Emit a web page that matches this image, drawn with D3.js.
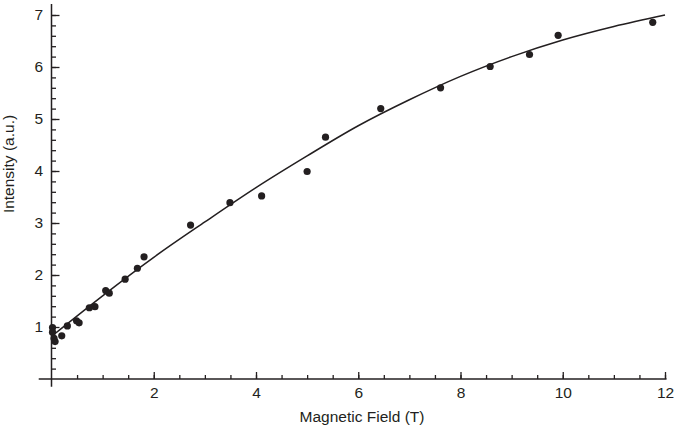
<!DOCTYPE html>
<html lang="en">
<head>
  <meta charset="UTF-8">
  <title>Intensity vs Magnetic Field</title>
  <script src="https://d3js.org/d3.v7.min.js"></script>
  <style>
    body { margin: 0; background: #fff; }
    svg { display: block; font-family: "Liberation Sans", Arial, sans-serif; }
    .axis path { display: none; }
    .axis line { stroke: #231f20; stroke-width: 1.3px; }
    .axis text { fill: #231f20; font-size: 15.5px; }
    .frame { stroke: #231f20; stroke-width: 1.5px; }
    .fit { fill: none; stroke: #231f20; stroke-width: 1.5px; }
    .dot { fill: #231f20; }
    .title { fill: #231f20; font-size: 15.5px; text-anchor: middle; }
  </style>
</head>
<body>
  <svg width="675" height="426"></svg>
  <script>
    // measured points
    const fieldT = [0.02, 0.02, 0.05, 0.07, 0.20, 0.31, 0.49, 0.54, 0.74, 0.85, 1.06, 1.13,
      1.44, 1.68, 1.81, 2.72, 3.49, 4.11, 5.00, 5.36, 6.44, 7.61, 8.58, 9.35, 9.91, 11.76];
    const intensity = [0.99, 0.90, 0.78, 0.72, 0.83, 1.02, 1.12, 1.08, 1.37, 1.39, 1.70, 1.65,
      1.92, 2.13, 2.35, 2.96, 3.39, 3.52, 3.99, 4.65, 5.20, 5.60, 6.01, 6.24, 6.61, 6.86];

    // fitted curve
    const fitX = [0, 1, 2, 3, 4, 5, 6, 7, 8, 9, 10, 11, 12];
    const fitY = [0.82, 1.60, 2.34, 3.02, 3.68, 4.29, 4.87, 5.37, 5.82, 6.20, 6.52, 6.78, 7.00];

    const xMajor = [2, 4, 6, 8, 10, 12];
    const yMajor = [1, 2, 3, 4, 5, 6, 7];

    const svg = d3.select("svg");

    const x = d3.scaleLinear().domain([0, 12]).range([51.5, 665]);
    const y = d3.scaleLinear().domain([0, 7]).range([379, 15]);

    // x axis minor + major ticks (pointing up)
    svg.append("g").attr("class", "axis")
      .attr("transform", `translate(0,${y(0)})`)
      .call(d3.axisBottom(x).tickValues(d3.range(0.5, 12.01, 0.5)).tickSizeInner(-4).tickSizeOuter(0).tickFormat(""));
    svg.append("g").attr("class", "axis")
      .attr("transform", `translate(0,${y(0)})`)
      .call(d3.axisBottom(x).tickValues(xMajor).tickSizeInner(-7).tickSizeOuter(0).tickPadding(8).tickFormat(d3.format("d")));

    // y axis minor + major ticks (pointing right)
    svg.append("g").attr("class", "axis")
      .attr("transform", `translate(${x(0)},0)`)
      .call(d3.axisLeft(y).tickValues(d3.range(0.2, 7.01, 0.2)).tickSizeInner(-4.5).tickSizeOuter(0).tickFormat(""));
    svg.append("g").attr("class", "axis")
      .attr("transform", `translate(${x(0)},0)`)
      .call(d3.axisLeft(y).tickValues(yMajor).tickSizeInner(-8).tickSizeOuter(0).tickPadding(8.5).tickFormat(d3.format("d")));

    // axis lines crossing at origin
    svg.append("line").attr("class", "frame")
      .attr("x1", x(-0.25)).attr("x2", x(12.03)).attr("y1", y(0)).attr("y2", y(0));
    svg.append("line").attr("class", "frame")
      .attr("x1", x(0)).attr("x2", x(0)).attr("y1", y(-0.15)).attr("y2", y(7.21));

    // fit line
    const line = d3.line()
      .x((d, i) => x(fitX[i]))
      .y(d => y(d))
      .curve(d3.curveMonotoneX);
    svg.append("path").attr("class", "fit").attr("d", line(fitY));

    // points
    svg.selectAll(".dot")
      .data(fieldT)
      .enter()
      .append("circle")
      .attr("class", "dot")
      .attr("cx", d => x(d))
      .attr("cy", (d, i) => y(intensity[i]))
      .attr("r", 3.6);

    // titles
    svg.append("text").attr("class", "title")
      .attr("x", 362).attr("y", 422)
      .text("Magnetic Field (T)");
    svg.append("text").attr("class", "title")
      .attr("transform", "translate(14,164) rotate(-90)")
      .text("Intensity (a.u.)");
  </script>
</body>
</html>
